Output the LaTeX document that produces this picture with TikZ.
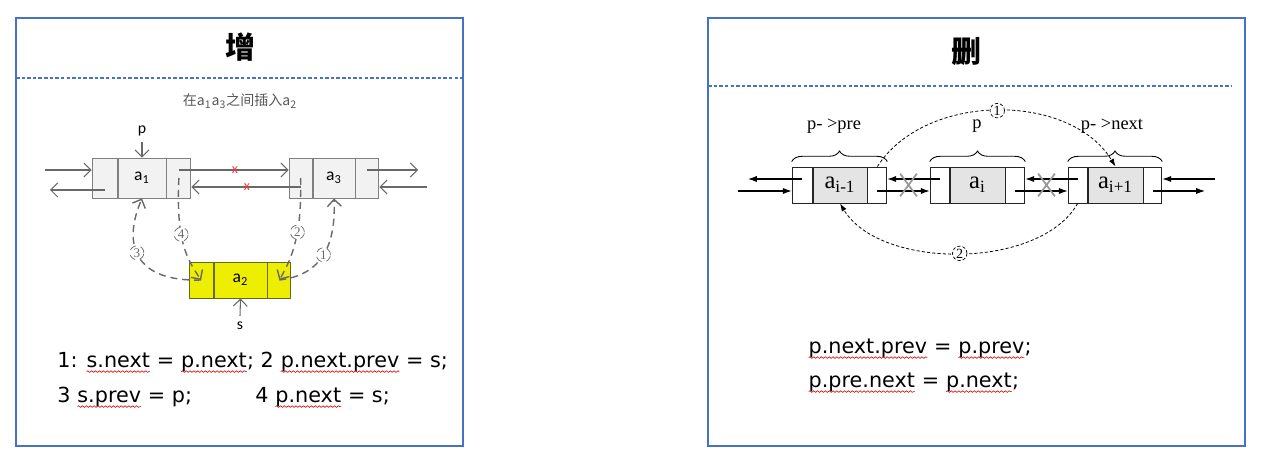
\documentclass[tikz,border=0pt]{standalone}
\usepackage{fontspec}
\setmainfont{Liberation Serif}
\setsansfont{Liberation Sans}
\newfontfamily\cjk{Noto Sans CJK SC}
\newfontfamily\carl{Carlito}
\newfontfamily\codefont{DejaVu Sans}
\usetikzlibrary{arrows.meta, calc, positioning, decorations.pathreplacing, decorations.pathmorphing, shapes.misc}

\definecolor{frameblue}{RGB}{68,114,196}
\definecolor{cellgray}{RGB}{242,242,242}
\definecolor{cellline}{RGB}{128,128,128}
\definecolor{yel}{RGB}{238,238,0}
\definecolor{yelline}{RGB}{105,105,20}
\definecolor{arrgray}{RGB}{105,105,105}
\definecolor{datagray}{RGB}{228,228,228}

% red wavy underline (spell check marks)
\newcommand\wv[1]{\tikz[baseline=(w.base)]{\node[inner sep=0pt, outer sep=0pt] (w) {#1};
	\draw[red!85!black, line width=0.35pt, decorate, decoration={snake, amplitude=0.45pt, segment length=2.2pt}]
	([yshift=-2.6pt]w.base west) -- ([yshift=-2.6pt]w.base east);}}

\begin{document}
\begin{tikzpicture}[x=0.02cm, y=-0.02cm,
	frame/.style={draw=frameblue, line width=0.6pt},
	sep/.style={frameblue, line width=0.6pt, dash pattern=on 2pt off 1.2pt},
	title/.style={font=\cjk\bfseries\fontsize{17}{20}\selectfont},
	cell/.style={draw=cellline, fill=cellgray, minimum height=0.8cm, inner sep=0pt, line width=0.5pt, font=\carl\fontsize{10}{12}\selectfont},
	ycell/.style={cell, draw=yelline, fill=yel, minimum height=0.72cm},
	garrow/.style={arrgray, line width=0.6pt, -{Straight Barb[length=4pt, width=8pt]}},
	gdash/.style={garrow, line width=0.8pt, dash pattern=on 4pt off 2.8pt},
	circnum/.style={circle, draw=arrgray, text=arrgray, fill=white, line width=0.4pt, inner sep=0pt, minimum size=0.28cm, font=\rmfamily\fontsize{7.5}{8}\selectfont},
	redx/.style={text=red!80, font=\carl\fontsize{8}{9}\selectfont, inner sep=0pt},
	dcell/.style={draw=black!85, fill=datagray, minimum height=0.72cm, inner sep=0pt, line width=0.5pt, font=\rmfamily\fontsize{14}{16}\selectfont},
	ecell/.style={dcell, fill=white},
	barrow/.style={black, line width=0.6pt, -{Latex[length=5pt, width=3.5pt]}},
	rdash/.style={black, line width=0.45pt, dash pattern=on 1.8pt off 1.2pt, -{Latex[length=4.5pt, width=3pt]}},
	circR/.style={circle, draw, fill=white, line width=0.4pt, inner sep=0pt, minimum size=0.29cm, font=\rmfamily\fontsize{8}{9}\selectfont},
	xmark/.style={cross out, draw=black!40, line width=1pt, minimum width=0.3cm, minimum height=0.42cm, inner sep=0pt},
	brace/.style={decorate, decoration={brace, amplitude=6pt}, line width=0.5pt},
	lbl/.style={font=\rmfamily\fontsize{10.5}{12}\selectfont},
	code/.style={font=\codefont\fontsize{11.8}{14}\selectfont, inner sep=0pt}]
	
	\useasboundingbox[fill=white] (0,0) rectangle (1263,462);
	
	% -------------------------------------------------------------------------
	% 1. Panels
	% -------------------------------------------------------------------------
	\draw[frame] (16,18) rectangle (463,446);
	\draw[sep] (16,78) -- (463,78);
	\node[title] (addT) at (240,47) {增};
	
	\draw[frame] (708,18) rectangle (1245,446);
	\draw[sep] (708,86) -- (1232,86);
	\node[title] (delT) at (966,52) {删};
	
	% -------------------------------------------------------------------------
	% 2. Insert: nodes a1, a3 and the new node a2
	% -------------------------------------------------------------------------
	\node[font=\cjk\fontsize{8}{10}\selectfont, text=black!65] (sub) at (240,101)
	{在a\textsubscript{1}a\textsubscript{3}之间插入a\textsubscript{2}};
	
	\node[cell, minimum width=0.96cm] (a1) at (142,178) {a\textsubscript{1}};
	\node[cell, minimum width=0.5cm, left=0pt of a1] (a1p) {};
	\node[cell, minimum width=0.48cm, right=0pt of a1] (a1n) {};
	
	\node[cell, minimum width=0.84cm] (a3) at (334,178) {a\textsubscript{3}};
	\node[cell, minimum width=0.46cm, left=0pt of a3] (a3p) {};
	\node[cell, minimum width=0.46cm, right=0pt of a3] (a3n) {};
	
	\node[ycell, minimum width=1.06cm] (a2) at (240.5,280) {a\textsubscript{2}};
	\node[ycell, minimum width=0.48cm, left=0pt of a2] (a2p) {};
	\node[ycell, minimum width=0.46cm, right=0pt of a2] (a2n) {};
	
	% old links
	\coordinate (inL) at (45,170);
	\coordinate (outL) at (50,190);
	\coordinate (outR) at (418,170);
	\coordinate (inR) at (427,187);
	\draw[garrow] (inL) -- (inL -| a1p.west);
	\draw[garrow] (a1p.center |- outL) -- (outL);
	\draw[garrow] ($(a1n.center)+(0,-8)$) -- ($(a3p.west)+(0,-8)$);
	\draw[garrow] ($(a3p.center)+(0,9)$) -- ($(a1n.east)+(0,9)$);
	\draw[garrow] (a3n.center |- outR) -- (outR);
	\draw[garrow] (inR) -- (inR -| a3n.east);
	\node[redx] (cutA) at (235,170) {x};
	\node[redx] (cutB) at (247,187) {x};
	
	% pointers p and s
	\node[font=\carl\fontsize{9}{10}\selectfont] (p) at (142,131) {p};
	\draw[garrow] (p.south) -- (a1.north);
	\node[font=\carl\fontsize{9}{10}\selectfont] (s) at (240,326) {s};
	\draw[garrow] (s.north) -- (a2.south);
	
	% new links, in order 1-4
	\draw[gdash] (a2n.center) .. controls (322,275) and (336,245) .. (a3.south) node[circnum, pos=0.5] (c1) {1};
	\draw[gdash] (a3p.center) .. controls (302,235) and (292,258) .. (a2n.center) node[circnum, pos=0.4] (c2) {2};
	\draw[gdash] (a2p.center) .. controls (135,282) and (122,245) .. (a1.south) node[circnum, pos=0.55] (c3) {3};
	\draw[gdash] (a1n.center) .. controls (176,240) and (186,258) .. (a2p.center) node[circnum, pos=0.4] (c4) {4};
	
	\node[code, anchor=base west] (add1) at (57,367) {1: \wv{s.next} = \wv{p.next}; 2 \wv{p.next.prev} = s;};
	\node[code, anchor=base west] (add2) at (57,402) {3 \wv{s.prev} = p;};
	\node[code, anchor=base west] (add3) at (255,402) {4 \wv{p.next} = s;};
	
	% -------------------------------------------------------------------------
	% 3. Delete: nodes a(i-1), a(i), a(i+1)
	% -------------------------------------------------------------------------
	\node[dcell, minimum width=1.08cm] (aim1) at (840,185) {a\textsubscript{i-1}};
	\node[ecell, minimum width=0.4cm, left=0pt of aim1] (aim1p) {};
	\node[ecell, minimum width=0.38cm, right=0pt of aim1] (aim1n) {};
	
	\node[dcell, minimum width=1.1cm] (ai) at (977.5,185) {a\textsubscript{i}};
	\node[ecell, minimum width=0.38cm, left=0pt of ai] (aip) {};
	\node[ecell, minimum width=0.38cm, right=0pt of ai] (ain) {};
	
	\node[dcell, minimum width=1.1cm] (aip1) at (1115.5,185) {a\textsubscript{i+1}};
	\node[ecell, minimum width=0.38cm, left=0pt of aip1] (aip1p) {};
	\node[ecell, minimum width=0.36cm, right=0pt of aip1] (aip1n) {};
	
	% braces and names
	\draw[brace] ($(aim1p.north west)+(0,-5)$) -- ($(aim1n.north east)+(0,-5)$);
	\draw[brace] ($(aip.north west)+(0,-5)$) -- ($(ain.north east)+(0,-5)$);
	\draw[brace] ($(aip1p.north west)+(0,-5)$) -- ($(aip1n.north east)+(0,-5)$);
	\node[lbl] (preL) at (834,126) {p- >pre};
	\node[lbl] (curL) at (977,126) {p};
	\node[lbl] (nextL) at (1112,126) {p- >next};
	
	% links
	\coordinate (outL2) at (748,179);
	\coordinate (inL2) at (738,191);
	\coordinate (inR2) at (1215,179);
	\coordinate (outR2) at (1205,191);
	\draw[barrow] (aim1p.center |- outL2) -- (outL2);
	\draw[barrow] (inL2) -- (inL2 -| aim1p.west);
	\draw[barrow] ($(aip.center)+(0,-6)$) -- ($(aim1n.east)+(0,-6)$);
	\draw[barrow] ($(aim1n.center)+(0,6)$) -- ($(aip.west)+(0,6)$);
	\draw[barrow] ($(aip1p.center)+(0,-6)$) -- ($(ain.east)+(0,-6)$);
	\draw[barrow] ($(ain.center)+(0,6)$) -- ($(aip1p.west)+(0,6)$);
	\draw[barrow] (inR2) -- (inR2 -| aip1n.east);
	\draw[barrow] (aip1n.center |- outR2) -- (outR2);
	\node[xmark] (cut1) at ($(aim1n.east)!0.5!(aip.west)$) {};
	\node[xmark] (cut2) at ($(ain.east)!0.5!(aip1p.west)$) {};
	
	% bypass links 1 and 2
	\draw[rdash] (aim1n.north) .. controls (925,92) and (1070,92) .. (aip1.north) node[circR, pos=0.5] (r1) {1};
	\draw[rdash] (aip1p.south) .. controls (1040,270) and (880,270) .. (aim1.south) node[circR, pos=0.5] (r2) {2};
	
	\node[code, anchor=base west] (del1) at (808,353) {\wv{p.next.prev} = \wv{p.prev};};
	\node[code, anchor=base west] (del2) at (808,387) {\wv{p.pre.next} = \wv{p.next};};
	
\end{tikzpicture}
\end{document}
